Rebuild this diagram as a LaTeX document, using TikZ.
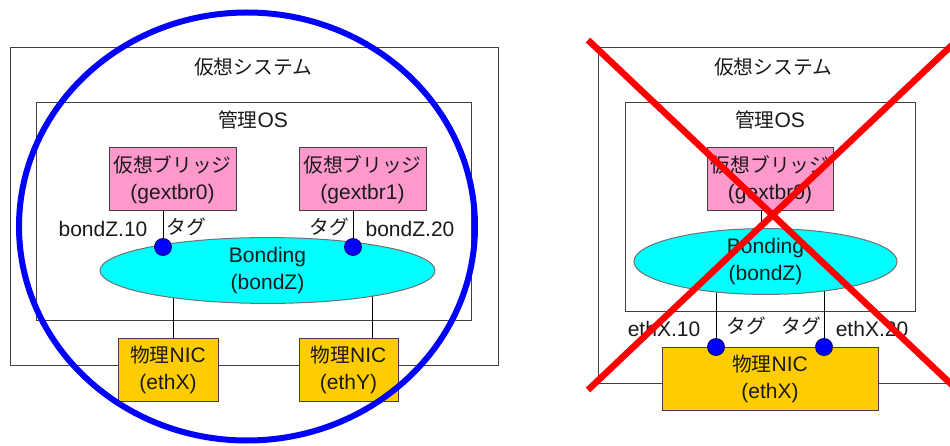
\documentclass[tikz,border=0pt]{standalone}
\usepackage{fontspec}
\setmainfont{Liberation Sans}
\newfontfamily\jp{Noto Sans CJK JP}[Scale=0.94]
\usetikzlibrary{shapes.geometric}
\definecolor{pinkfill}{HTML}{FF99CC}
\definecolor{cyanfill}{HTML}{00FFFF}
\definecolor{nicfill}{HTML}{FFCC00}
\definecolor{edgegray}{HTML}{404040}
\definecolor{bondedge}{HTML}{707070}
\definecolor{txt}{HTML}{1A1A1A}
\begin{document}
\begin{tikzpicture}[x=1pt,y=-1pt,
  every node/.style={font=\fontsize{21}{27}\selectfont, inner sep=0pt, text=txt},
  frame/.style={draw=edgegray, line width=1pt},
  brbox/.style={draw=edgegray, line width=1pt, fill=pinkfill, minimum width=127pt, minimum height=63pt, align=center},
  nicbox/.style={draw=edgegray, line width=1pt, fill=nicfill, minimum height=63pt, align=center},
  bondell/.style={ellipse, draw=bondedge, line width=1pt, fill=cyanfill, minimum height=63pt, align=center},
  port/.style={circle, fill=blue, draw=black!60!blue, line width=0.8pt, minimum size=17pt},
  link/.style={draw=black, line width=1pt},
  cross/.style={draw=red, line width=6.5pt},
  ring/.style={ellipse, draw=blue, line width=6pt, minimum width=456pt, minimum height=428pt}]
\useasboundingbox (0,0) rectangle (950,446);
\fill[white] (0,0) rectangle (950,446);

% ---------------- left panel ----------------
\node[frame, minimum width=488pt, minimum height=317pt] (sys1) at (254,206.5) {};
\node (sys1t) at (253,67) {\jp 仮想システム};
\node[frame, minimum width=435pt, minimum height=217pt] (os1) at (253.5,211.5) {};
\node (os1t) at (253,120) {{\jp 管理}OS};
\node[brbox] (br0) at (172.5,179.5) {{\jp 仮想ブリッジ}\\(gextbr0)};
\node[brbox] (br1) at (362.5,179.5) {{\jp 仮想ブリッジ}\\(gextbr1)};
\node[nicbox, minimum width=100pt] (nicX) at (168,370) {{\jp 物理}NIC\\(ethX)};
\node[nicbox, minimum width=99pt] (nicY) at (348.5,370) {{\jp 物理}NIC\\(ethY)};
\coordinate (c1) at (173,270);
\coordinate (c2) at (372,270);
\draw[link] (nicX.north -| c1) -- (c1);
\draw[link] (nicY.north -| c2) -- (c2);
\node[bondell, minimum width=335pt] (bond1) at (267.5,270.5) {Bonding\\(bondZ)};
\coordinate (p10) at (163,247);
\coordinate (p20) at (353,247);
\draw[link] (br0.south -| p10) -- (p10);
\draw[link] (br1.south -| p20) -- (p20);
\node[port] (d10) at (p10) {};
\node[port] (d20) at (p20) {};
\node (l10) at (103,229) {bondZ.10};
\node (l20) at (410,229) {bondZ.20};
\node (t10) at (186,227) {\jp タグ};
\node (t20) at (329,227) {\jp タグ};
\node[ring] (okring) at (247,226.5) {};

% ---------------- right panel ----------------
\draw[frame] (951,48) -- (598,48) -- (598,383) -- (951,383);
\node (sys2t) at (773,67) {\jp 仮想システム};
\node[frame, minimum width=290pt, minimum height=208pt] (os2) at (770,207) {};
\node (os2t) at (770,120) {{\jp 管理}OS};
\node[brbox, minimum width=126pt] (br2) at (770,179.5) {{\jp 仮想ブリッジ}\\(gextbr0)};
\coordinate (c3) at (761,262);
\draw[link] (br2.south -| c3) -- (c3);
\coordinate (q10) at (716,347);
\coordinate (q20) at (824,347);
\coordinate (e1) at (716,262);
\coordinate (e2) at (824,262);
\draw[link] (e1) -- (q10);
\draw[link] (e2) -- (q20);
\node[bondell, minimum width=263pt] (bond2) at (765.5,261.5) {Bonding\\(bondZ)};
\node[nicbox, minimum width=216pt] (nic2) at (770,378.5) {{\jp 物理}NIC\\(ethX)};
\node[port] (f10) at (q10) {};
\node[port] (f20) at (q20) {};
\node (m10) at (664,329) {ethX.10};
\node (m20) at (872,329) {ethX.20};
\node (u10) at (746,326) {\jp タグ};
\node (u20) at (801,326) {\jp タグ};
\coordinate (x1) at (588,40);
\coordinate (x2) at (952,385);
\coordinate (x3) at (588,390);
\coordinate (x4) at (952,45);
\draw[cross] (x1) -- (x2);
\draw[cross] (x3) -- (x4);
\end{tikzpicture}
\end{document}
